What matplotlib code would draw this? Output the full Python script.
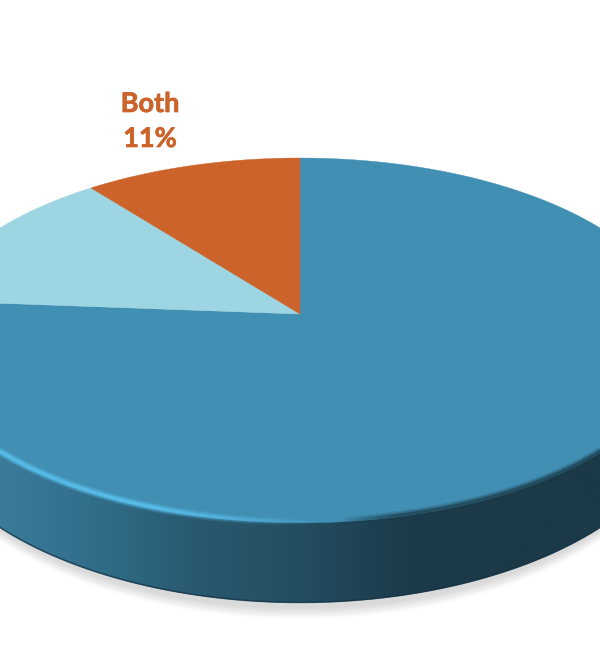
import matplotlib
matplotlib.use("Agg")
import matplotlib.patheffects as pe
import matplotlib.pyplot as plt
import numpy as np
from matplotlib.collections import LineCollection
from matplotlib.colors import LinearSegmentedColormap, to_rgb
from matplotlib.patches import Polygon

# clockwise from 12 o'clock
slice_names = ["Main", "Other", "Both"]
slice_values = [76.2, 13.2, 10.6]
slice_colors = ["#418fb3", "#9dd6e2", "#cb632b"]

WIDTH, HEIGHT = 600, 652
CX, CY = 300, 314
A, B, K = 377, 178.6, 0.145
DEPTH = 80


def project(theta):
    # theta clockwise from top, in radians; simple perspective on the disc
    u, v = np.sin(theta), np.cos(theta)
    w = 1 + K * v
    return CX + A * u / w, CY - B * v / w


def lower_edge(x, y):
    return y + DEPTH - 5 * ((x - CX) / 300) ** 2


fig = plt.figure(figsize=(WIDTH / 100, HEIGHT / 100), dpi=100)
ax = fig.add_axes([0, 0, 1, 1])
ax.set_xlim(0, WIDTH)
ax.set_ylim(HEIGHT, 0)
ax.axis("off")

t = np.linspace(0, 2 * np.pi, 721)
rx, ry = project(t)
front = ry > 340
order = np.argsort(rx[front])
fx, fy = rx[front][order], ry[front][order]
by = lower_edge(fx, fy)

# soft shadow under the disc
for off, alpha in zip([16, 14, 12, 10, 8, 6], [0.03, 0.05, 0.06, 0.06, 0.06, 0.06]):
    ax.fill(rx, lower_edge(rx, ry) + off - 3 * ((rx - CX) / 300) ** 2, color="#808080",
            alpha=alpha, lw=0, zorder=1)

# side wall, horizontal gradient clipped to the wall outline
side_cmap = LinearSegmentedColormap.from_list(
    "side",
    [(0, "#3b7c9b"), (0.17, "#306c88"), (0.33, "#29596f"), (0.5, "#234d61"),
     (0.67, "#1c3c4b"), (0.83, "#1b3947"), (1, "#1b3947")],
)
grad = np.linspace(0, 1, 256).reshape(1, -1)
im = ax.imshow(grad, cmap=side_cmap, extent=[0, WIDTH, HEIGHT, 0], aspect="auto", zorder=2)
wall = Polygon(np.vstack([np.column_stack([fx, fy - 2]),
                          np.column_stack([fx[::-1], by[::-1]])]),
               transform=ax.transData, closed=True, fc="none", ec="none")
ax.add_patch(wall)
im.set_clip_path(wall)

# dark line along the bottom of the wall
ax.plot(fx, by - 0.5, color="#163344", lw=1.2, alpha=0.7, zorder=3)

# top face
fractions = np.cumsum([0] + slice_values) / sum(slice_values)
for name, color, start, end in zip(slice_names, slice_colors, fractions[:-1], fractions[1:]):
    a = np.linspace(start, end, 300) * 2 * np.pi
    px, py = project(a)
    ax.fill(np.r_[CX, px], np.r_[CY, py], color=color, lw=0.3, ec=color, zorder=4, label=name)

# bevel: soft dark edge on the right, bright edge on the left
points = np.column_stack([fx, fy - 1.5]).reshape(-1, 1, 2)
segs = np.concatenate([points[:-1], points[1:]], axis=1)
mid = (fx[:-1] + fx[1:]) / 2
for lw, scale in [(6, 0.3), (4, 0.5), (2, 1.0)]:
    cols = np.zeros((len(mid), 4))
    cols[:, :3] = to_rgb("#58bce8")
    cols[:, 3] = scale * np.clip((320 - mid) / 170, 0, 1)
    ax.add_collection(LineCollection(segs, colors=cols, linewidths=lw, zorder=5))
    dark = np.zeros((len(mid), 4))
    dark[:, :3] = to_rgb("#1b3947")
    dark[:, 3] = 0.6 * scale * np.clip((mid - 340) / 60, 0, 1)
    ax.add_collection(LineCollection(segs, colors=dark, linewidths=lw, zorder=5))

label_style = dict(color="#cb632b", family="Lato", fontweight="bold", fontsize=19.5,
                   ha="center", va="center", zorder=6,
                   path_effects=[pe.withStroke(linewidth=0.5, foreground="#cb632b")])
ax.text(150, 104, slice_names[2], **label_style)
ax.text(150, 139, f"{slice_values[2]:.0f}%", **label_style)

fig.savefig("out.png", dpi=100)
plt.close(fig)
